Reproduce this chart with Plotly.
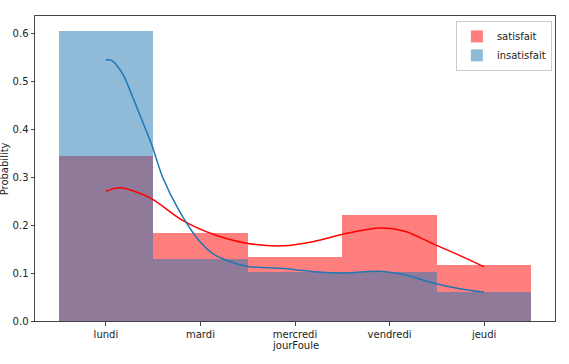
import plotly.graph_objects as go

categories = ["lundi", "mardi", "mercredi", "vendredi", "jeudi"]
satisfait = [0.345, 0.183, 0.134, 0.222, 0.116]
insatisfait = [0.605, 0.130, 0.103, 0.102, 0.060]

kde_sat_x = [0.0, 0.15, 0.46, 0.81, 1.15, 1.5, 1.88, 2.2, 2.55, 2.9, 3.17, 3.45, 3.73, 4.0]
kde_sat_y = [0.271, 0.278, 0.258, 0.210, 0.180, 0.162, 0.157, 0.166, 0.183, 0.194, 0.187, 0.162, 0.138, 0.113]
kde_ins_x = [0.0, 0.06, 0.18, 0.28, 0.39, 0.49, 0.6, 0.77, 0.98, 1.15, 1.47, 1.85, 2.2, 2.48, 2.9, 3.17, 3.45, 3.73, 4.0]
kde_ins_y = [0.545, 0.544, 0.515, 0.469, 0.415, 0.365, 0.300, 0.232, 0.169, 0.138, 0.115, 0.110, 0.103, 0.100, 0.104, 0.096, 0.080, 0.068, 0.060]

xpos = list(range(len(categories)))

fig = go.Figure()
fig.add_trace(go.Bar(x=xpos, y=satisfait, width=1, name="satisfait",
                     marker=dict(color="rgba(255,0,0,0.5)", line=dict(width=0))))
fig.add_trace(go.Bar(x=xpos, y=insatisfait, width=1, name="insatisfait",
                     marker=dict(color="rgba(31,119,180,0.5)", line=dict(width=0))))
fig.add_trace(go.Scatter(x=kde_sat_x, y=kde_sat_y, mode="lines", showlegend=False,
                         line=dict(color="red", width=1.5, shape="spline", smoothing=0.8)))
fig.add_trace(go.Scatter(x=kde_ins_x, y=kde_ins_y, mode="lines", showlegend=False,
                         line=dict(color="#1f77b4", width=1.5, shape="spline", smoothing=0.8)))

font = dict(family="DejaVu Sans", size=10, color="#222")
fig.update_layout(
    width=569, height=364, barmode="overlay", bargap=0,
    margin=dict(l=35, r=14, t=16, b=43, autoexpand=False),
    plot_bgcolor="white", paper_bgcolor="white", font=font,
    legend=dict(x=0.994, y=0.984, xanchor="right", yanchor="top",
                bordercolor="#cccccc", borderwidth=1, bgcolor="rgba(255,255,255,0.8)",
                font=dict(family="DejaVu Sans", size=10, color="#222"), tracegroupgap=0,
                itemwidth=30),
    xaxis=dict(range=[-0.75, 4.75], tickvals=xpos, ticktext=categories, automargin=False,
               showgrid=False, zeroline=False, showline=True, linecolor="#444", linewidth=1,
               mirror=True, ticks="outside", ticklen=3.5, tickcolor="#444"),
    yaxis=dict(range=[0, 0.6367], tickvals=[0, 0.1, 0.2, 0.3, 0.4, 0.5, 0.6], automargin=False,
               tickformat=".1f", showgrid=False, zeroline=False, showline=True,
               linecolor="#444", linewidth=1, mirror=True, ticks="outside",
               ticklen=3.5, tickcolor="#444"),
    annotations=[
        dict(text="jourFoule", xref="paper", yref="paper", x=0.5, y=-0.079,
             xanchor="center", yanchor="middle", showarrow=False, font=font),
        dict(text="Probability", xref="paper", yref="paper", x=-0.058, y=0.5,
             xanchor="center", yanchor="middle", showarrow=False, textangle=-90, font=font),
    ],
)
fig.write_html("out.html", config={"displayModeBar": False},
               post_script="document.body.style.margin='0px';")
